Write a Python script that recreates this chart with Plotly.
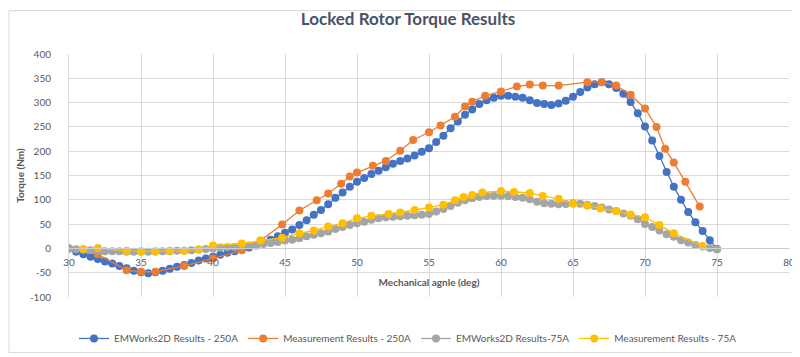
import plotly.graph_objects as go

# ---------------- data ----------------
title_text = "Locked Rotor Torque Results"
x_title = "Mechanical agnle (deg)"
y_title = "Torque (Nm)"

names = ["EMWorks2D Results - 250A", "Measurement Results - 250A",
         "EMWorks2D Results-75A", "Measurement Results - 75A"]

# EMWorks2D 250A (every 0.5 deg)
emw250_x = [30, 30.5, 31, 31.5, 32, 32.5, 33, 33.5, 34, 34.5, 35, 35.5, 36, 36.5, 37, 37.5,
            38, 38.5, 39, 39.5, 40, 40.5, 41, 41.5, 42, 42.5, 43, 43.5, 44, 44.5, 45, 45.5,
            46, 46.5, 47, 47.5, 48, 48.5, 49, 49.5, 50, 50.5, 51, 51.5, 52, 52.5, 53, 53.5,
            54, 54.5, 55, 55.5, 56, 56.5, 57, 57.5, 58, 58.5, 59, 59.5, 60, 60.5, 61, 61.5,
            62, 62.5, 63, 63.5, 64, 64.5, 65, 65.5, 66, 66.5, 67, 67.5, 68, 68.5, 69, 69.5,
            70, 70.5, 71, 71.5, 72, 72.5, 73, 73.5, 74, 74.5, 75]
emw250_y = [0, -7, -12, -17, -22, -27, -31, -36, -41, -46, -49, -51, -49, -46, -42, -38,
            -34, -30, -25, -21, -17, -13, -9, -6, -2, 2, 6, 11, 18, 25, 32, 39,
            48, 58, 69, 79, 91, 104, 115, 127, 137, 145, 153, 160, 167, 174, 180, 185,
            191, 199, 206, 219, 232, 247, 261, 275, 286, 297, 305, 310, 314, 314, 312, 310,
            305, 299, 297, 295, 298, 304, 312, 322, 331, 338, 342, 338, 330, 318, 301, 278,
            251, 222, 190, 157, 127, 100, 75, 54, 36, 17, -1]

# Measurement 250A
meas250_x = [30, 32, 34, 35, 36, 38, 40, 42, 43.3, 44.8, 46, 47.2, 48, 48.9, 49.5, 50,
             51.1, 52, 53, 53.9, 55, 55.8, 56.8, 57.5, 58, 58.9, 60, 61.1, 62, 62.9, 64,
             66, 67, 68, 69, 70, 70.8, 71.4, 72, 72.8, 73.8]
meas250_y = [0, -12, -45, -48, -48, -36, -21, -4, 16, 49, 78, 99, 113, 133, 148, 156,
             170, 180, 201, 223, 239, 253, 271, 292, 302, 314, 323, 333, 337, 335, 335,
             342, 342, 335, 316, 288, 250, 205, 177, 137, 86]

# EMWorks2D 75A (every 0.5 deg)
emw75_x = emw250_x
emw75_y = [0, -2, -3, -4, -5, -6, -6, -6, -7, -7, -7, -7, -7, -6, -6, -5,
           -5, -4, -3, -1, 0, 2, 2.5, 3, 4.5, 6, 7, 9, 11, 13, 16, 18,
           21, 25, 28, 31, 35, 40, 44, 48, 52, 55, 59, 62, 64, 65, 66, 67,
           68, 69, 71, 76, 81, 87, 94, 99, 103, 106, 108, 108.5, 108.5, 108, 106, 104,
           101, 96, 93, 92, 91, 91.5, 93, 92, 90, 87, 84, 80, 77, 72, 67, 60,
           50, 44, 37, 29, 24, 17, 12, 7, 4, 1, -2]

# Measurement 75A
meas75_x = [31, 32, 34, 35, 36, 37, 38, 39, 40, 42, 43.3, 44.8, 46, 47, 48, 49, 50, 51,
            52.2, 53, 54, 55, 56, 56.8, 57.4, 58, 58.7, 60, 60.9, 62, 62.9, 64, 65, 66,
            66.9, 68, 69, 70, 71, 72, 74]
meas75_y = [-1, 1, -5, -6, -6, -5, -5, -2, 6, 10, 16, 22, 31, 37, 45, 52, 62, 67,
            71, 74, 79, 84, 90, 99, 106, 110, 115, 118, 116, 114, 108, 102, 92, 88,
            82, 77, 70, 64, 48, 31, 5]

colors = ["#4472C4", "#ED7D31", "#A5A5A5", "#FFC000"]

x_ticks = [30, 35, 40, 45, 50, 55, 60, 65, 70, 75, 80]
y_ticks = [-100, -50, 0, 50, 100, 150, 200, 250, 300, 350, 400]

# ---------------- figure ----------------
FONT = "Lato"
TXT = "#595959"
GRID = "#D9D9D9"

fig = go.Figure()
series = [(emw250_x, emw250_y), (meas250_x, meas250_y), (emw75_x, emw75_y), (meas75_x, meas75_y)]
for (xs, ys), nm, c in zip(series, names, colors):
    fig.add_trace(go.Scatter(
        x=xs, y=ys, name=nm, mode="lines+markers",
        line=dict(color=c, width=1.3),
        marker=dict(color=c, size=8, line=dict(width=0)),
    ))

W, H = 800, 357
L, R, T, B = 61, 19, 46, 59
pw, ph = W - L - R, H - T - B

fig.update_layout(
    width=W, height=H,
    margin=dict(l=L, r=R, t=T, b=B),
    paper_bgcolor="white", plot_bgcolor="white",
    font=dict(family=FONT, color=TXT, size=10),
    title=dict(text=title_text, x=0.5, xref="container", xanchor="center",
               y=1 - 11 / H, yref="container", yanchor="middle",
               font=dict(family=FONT, size=17, color="#4A5363", weight="bold")),
    showlegend=True,
    legend=dict(orientation="h", x=(400 - L) / pw, xanchor="center",
                y=-(341 - (T + ph)) / ph, yanchor="middle",
                font=dict(family=FONT, size=10, color=TXT),
                itemwidth=30, bgcolor="rgba(0,0,0,0)"),
    xaxis=dict(range=[30, 80], tickvals=x_ticks, ticktext=[str(v) for v in x_ticks],
               showgrid=True, gridcolor=GRID, gridwidth=1, zeroline=False,
               anchor="free", position=0.2,
               showline=True, linecolor="#C9CDD3", linewidth=1,
               ticks="", ticklabelstandoff=5, tickfont=dict(family=FONT, size=10, color=TXT),
               title=dict(text=x_title, standoff=11,
                          font=dict(family=FONT, size=10, color=TXT, weight="bold")),
               automargin=False),
    yaxis=dict(range=[-100, 400], tickvals=y_ticks, ticktext=[str(v) for v in y_ticks],
               showgrid=True, gridcolor=GRID, gridwidth=1, zeroline=False,
               showline=True, linecolor=GRID, linewidth=1,
               ticks="", ticklabelstandoff=15, tickfont=dict(family=FONT, size=10, color=TXT),
               title=dict(text=y_title, standoff=3,
                          font=dict(family=FONT, size=10, color=TXT, weight="bold")),
               automargin=False),
)

# chart-area border
fig.add_shape(type="rect", xref="paper", yref="paper",
              x0=(1 - L) / pw, x1=(W - 1.5 - L) / pw,
              y0=-(H - 1.5 - T - ph) / ph, y1=1 + (T - 1) / ph,
              line=dict(color="#D9D9D9", width=1), fillcolor="rgba(0,0,0,0)", layer="below")

fig.write_html("out.html")
